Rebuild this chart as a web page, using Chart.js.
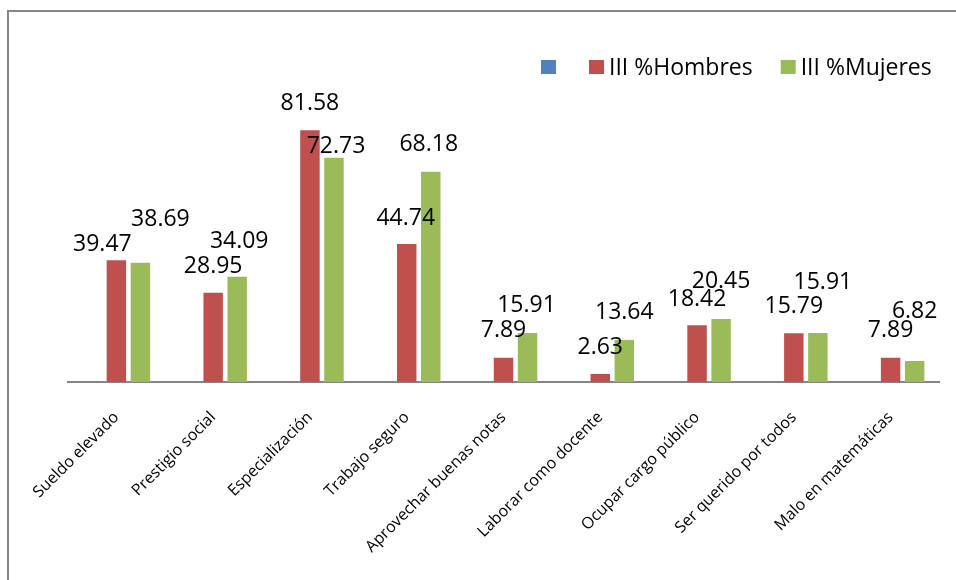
<!DOCTYPE html>
<html>
<head>
<meta charset="utf-8">
<script src="https://cdn.jsdelivr.net/npm/chart.js@4.4.1/dist/chart.umd.min.js"></script>
<style>
  html, body { margin: 0; padding: 0; background: #ffffff; }
  #wrap { position: relative; width: 956px; height: 580px; }
  canvas { display: block; }
</style>
</head>
<body>
<div id="wrap"><canvas id="chart" width="956" height="580"></canvas></div>
<script>
// Categories along the x axis
const categories = [
  'Sueldo elevado',
  'Prestigio social',
  'Especialización',
  'Trabajo seguro',
  'Aprovechar buenas notas',
  'Laborar como docente',
  'Ocupar cargo público',
  'Ser querido por todos',
  'Malo en matemáticas'
];

// Series names shown in the legend (the first series has no name and no values)
const seriesNames = ['', 'III %Hombres', 'III %Mujeres'];

// Values per series (percent)
const sinNombre = [null, null, null, null, null, null, null, null, null];
const hombres = [39.47, 28.95, 81.58, 44.74, 7.89, 2.63, 18.42, 15.79, 7.89];
const mujeres = [38.69, 34.09, 72.73, 68.18, 15.91, 13.64, 20.45, 15.91, 6.82];

// Hand-placed nudges [dx, dy] (px) for the value labels, relative to the spot above each bar
const hombresLabelShift = [[-14, -11], [0, -1], [0, 0], [-1, -1], [0, 0], [0, -1], [0, -1], [0, 0], [0, 0]];
const mujeresLabelShift = [[20, 16], [2, 8], [2, -16], [-2, 0], [-1, 0], [0, 0], [0, 10], [5, 23], [0, 23]];

const COLORS = ['#4F81BD', '#C0504D', '#9BBB59'];
const FONT = "'Open Sans', 'Noto Sans', sans-serif";

// White page with the grey frame along the top and left edges
const framePlugin = {
  id: 'frame',
  beforeDraw(chart) {
    const ctx = chart.ctx;
    ctx.save();
    ctx.fillStyle = '#ffffff';
    ctx.fillRect(0, 0, chart.width, chart.height);
    ctx.strokeStyle = '#878787';
    ctx.lineWidth = 2;
    ctx.beginPath();
    ctx.moveTo(8, chart.height);
    ctx.lineTo(8, 11);
    ctx.lineTo(chart.width, 11);
    ctx.stroke();
    ctx.restore();
  }
};

// Legend row: square swatch followed by the series name
const legendPlugin = {
  id: 'legendRow',
  afterDraw(chart) {
    const ctx = chart.ctx;
    ctx.save();
    ctx.font = '23px ' + FONT;
    ctx.textBaseline = 'middle';
    ctx.textAlign = 'left';
    const box = 15, boxH = 14, gap = 5, spacing = 28;
    let x = 541;
    const yMid = 67;
    chart.data.datasets.forEach(ds => {
      ctx.fillStyle = ds.backgroundColor;
      ctx.fillRect(x, yMid - boxH / 2, box, boxH);
      x += box + gap;
      ctx.fillStyle = '#000000';
      ctx.fillText(ds.label, x, yMid + 1);
      x += ctx.measureText(ds.label).width + spacing;
    });
    ctx.restore();
  }
};

// Value labels above the bars
const valueLabelPlugin = {
  id: 'valueLabels',
  afterDatasetsDraw(chart) {
    const ctx = chart.ctx;
    const shifts = [null, hombresLabelShift, mujeresLabelShift];
    ctx.save();
    ctx.font = '23px ' + FONT;
    ctx.fillStyle = '#000000';
    ctx.textAlign = 'center';
    ctx.textBaseline = 'middle';
    chart.data.datasets.forEach((ds, i) => {
      if (!shifts[i]) return;
      const meta = chart.getDatasetMeta(i);
      meta.data.forEach((bar, j) => {
        const v = ds.data[j];
        if (v === null || v === undefined) return;
        const [dx, dy] = shifts[i][j];
        ctx.fillText(v.toFixed(2), bar.x + dx, bar.y - 27 - dy);
      });
    });
    ctx.restore();
  }
};

new Chart(document.getElementById('chart'), {
  type: 'bar',
  data: {
    labels: categories,
    datasets: [
      { label: seriesNames[0], data: sinNombre, backgroundColor: COLORS[0] },
      { label: seriesNames[1], data: hombres, backgroundColor: COLORS[1] },
      { label: seriesNames[2], data: mujeres, backgroundColor: COLORS[2] }
    ]
  },
  options: {
    responsive: false,
    animation: false,
    devicePixelRatio: 1,
    categoryPercentage: 0.745,
    barPercentage: 0.81,
    layout: { padding: { left: 68, right: 17, top: 73.5, bottom: 0 } },
    plugins: {
      legend: { display: false },
      tooltip: { enabled: false }
    },
    scales: {
      x: {
        grid: { display: false, drawTicks: false },
        border: { display: true, color: '#868686', width: 2 },
        ticks: {
          autoSkip: false,
          minRotation: 45,
          maxRotation: 45,
          padding: 26,
          color: '#000000',
          font: { family: FONT, size: 16 }
        },
        afterFit(scale) { scale.height = 198; }
      },
      y: { display: false, min: 0, max: 100 }
    }
  },
  plugins: [framePlugin, legendPlugin, valueLabelPlugin]
});
</script>
</body>
</html>
